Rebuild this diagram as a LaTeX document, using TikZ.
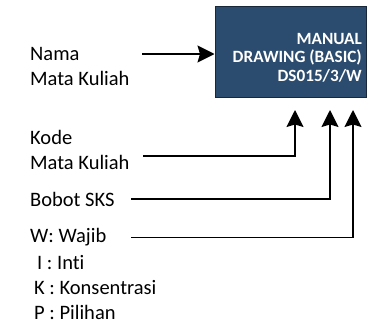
\documentclass[tikz,border=0pt]{standalone}
\usepackage{fontspec}
\setmainfont[Ligatures={NoCommon}]{Carlito}
\usetikzlibrary{arrows.meta}
\definecolor{boxblue}{HTML}{2B4C6E}
\definecolor{boxedge}{HTML}{18283A}
\tikzset{
  lbl/.style={anchor=base west, inner sep=0pt, font=\fontsize{20.5}{22}\selectfont},
  conn/.style={line width=1.4pt, draw=black},
  arr/.style={conn, -{Stealth[length=17pt,width=17pt,inset=2.5pt]}},
  mainbox/.style={draw=boxedge, line width=1.5pt, fill=boxblue, inner sep=0pt},
  boxtext/.style={anchor=base east, inner sep=0pt, text=white, font=\bfseries\fontsize{17.2}{18}\selectfont}
}
\begin{document}
\begin{tikzpicture}[x=1pt,y=-1pt]
\useasboundingbox (0,0) rectangle (367,324);
% main box
\node[mainbox, minimum width=151pt, minimum height=91pt, anchor=north west] (box) at (214.5,5.5) {};
\node[boxtext] (t1) at (362,44) {MANUAL};
\node[boxtext] (t2) at (362,62.5) {DRAWING (BASIC)};
\node[boxtext] (t3) at (362,81) {DS015/3/W};
% labels
\node[lbl] (nama) at (30,60) {Nama};
\node[lbl] (mk1) at (30,85.5) {Mata Kuliah};
\node[lbl] (kode) at (30,144) {Kode};
\node[lbl] (mk2) at (30,169) {Mata Kuliah};
\node[lbl] (sks) at (30,206.5) {Bobot SKS};
\node[lbl] (wajib) at (30,242.5) {W: Wajib};
\node[lbl] (inti) at (37,269) {I : Inti};
\node[lbl] (kons) at (34,294) {K : Konsentrasi};
\node[lbl] (pil) at (34,319) {P : Pilihan};
% connector coordinates
\coordinate (nstart) at (142,54);
\coordinate (kstart) at (143,156);
\coordinate (bstart) at (131,199);
\coordinate (wstart) at (131,237.5);
\coordinate (kend) at (295,110);
\coordinate (bend) at (330,110);
\coordinate (wend) at (353,110);
% connectors
\draw[arr] (nstart) -- (nstart -| box.west);
\draw[arr] (kstart) -| (kend);
\draw[arr] (bstart) -| (bend);
\draw[arr] (wstart) -| (wend);
\end{tikzpicture}
\end{document}
